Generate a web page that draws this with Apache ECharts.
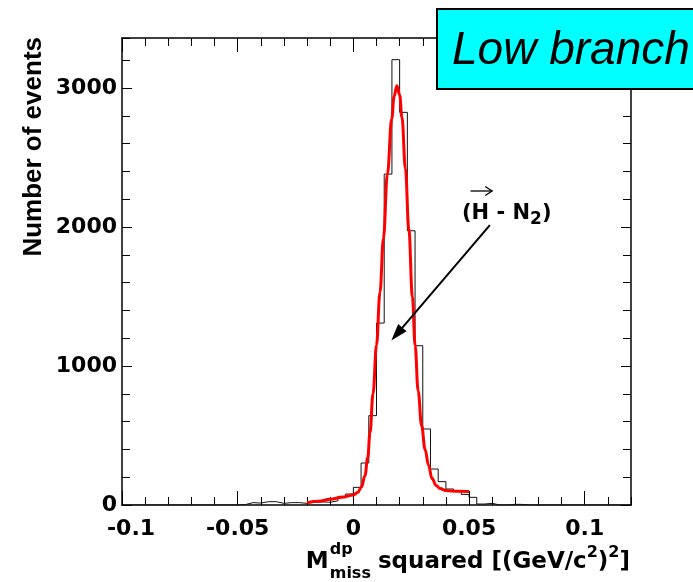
<!DOCTYPE html>
<html>
<head>
<meta charset="utf-8">
<script src="https://cdn.jsdelivr.net/npm/echarts@6/dist/echarts.min.js"></script>
<style>
  html, body { margin: 0; padding: 0; background: #ffffff; }
  #chart { width: 693px; height: 582px; }
</style>
</head>
<body>
<div id="chart"></div>
<script>
// Histogram: 66 bins from -0.1 to 0.12 (bin width 1/300)
const binLow = -0.1;
const binWidth = 0.01 / 3;
const counts = [
  0, 0, 0, 0, 0, 0, 0, 0, 0, 0,
  0, 0, 0, 0, 0, 3, 17, 14, 24, 24,
  12, 17, 17, 12, 20, 22, 20, 30, 62, 79,
  127, 302, 643, 1309, 2381, 3204, 2825, 1973, 1146, 547,
  259, 168, 115, 100, 76, 55, 7, 12, 0, 0,
  5, 4, 0, 0, 0, 0, 0, 0, 0, 0,
  0, 0, 0, 0, 0, 0
];

// Fitted curve, sampled points
const fitX = [-0.020, -0.015, -0.010, -0.005, 0.000, 0.002, 0.0035, 0.005, 0.0062,
  0.0072, 0.0085, 0.0100, 0.0115, 0.0130, 0.0147, 0.0166, 0.0176, 0.0188,
  0.0200, 0.0210, 0.0225, 0.0240, 0.0255, 0.0267, 0.0280, 0.0295, 0.0310,
  0.0325, 0.0340, 0.0358, 0.0375, 0.040, 0.045, 0.050];
const fitY = [17, 27, 42, 56, 72, 92, 130, 210, 340,
  520, 800, 1150, 1530, 1920, 2381, 2780, 2940, 3017,
  2950, 2790, 2420, 1980, 1500, 1146, 820, 570, 400,
  285, 190, 140, 118, 104, 99, 98];

// Axis ranges and tick steps
const xRange = [-0.1, 0.12];
const yRange = [0, 3360];
const xMajor = 0.05, xMinor = 0.01;
const yMajor = 1000, yMinor = 200;

// Annotation arrow (data units)
const arrowFrom = [0.0590, 2014];
const arrowTo = [0.0188, 1230];

const histData = counts.map((c, k) => [binLow + k * binWidth, c]);
histData.push([binLow + counts.length * binWidth, counts[counts.length - 1]]);
const fitData = fitX.map((x, i) => [x, fitY[i]]);

const BOLD = "'DejaVu Sans'";
const labelFont = { fontFamily: BOLD, fontWeight: 'bold', fontSize: 22, color: '#000' };

function fmt(v) { return String(+v.toFixed(4)); }

function xAxisDef(pos, major) {
  return {
    type: 'value', position: pos, min: xRange[0], max: xRange[1],
    interval: major ? xMajor : xMinor,
    axisLine: { show: major, onZero: false, lineStyle: { color: '#000', width: 1.5 } },
    axisTick: { show: true, inside: true, length: major ? 14 : 8, lineStyle: { color: '#000', width: 1 } },
    splitLine: { show: false },
    axisLabel: (major && pos === 'bottom') ? Object.assign({
      show: true, margin: 13, showMaxLabel: false,
      formatter: v => Math.abs(v - xRange[0]) < 1e-9 ? '{first|' + fmt(v) + '}' : fmt(v),
      rich: { first: Object.assign({ padding: [0, 0, 0, 18] }, labelFont) }
    }, labelFont) : { show: false }
  };
}
function yAxisDef(pos, major) {
  return {
    type: 'value', position: pos, min: yRange[0], max: yRange[1],
    interval: major ? yMajor : yMinor,
    axisLine: { show: major, onZero: false, lineStyle: { color: '#000', width: 1.5 } },
    axisTick: { show: true, inside: true, length: major ? 10 : 8, lineStyle: { color: '#000', width: 1 } },
    splitLine: { show: false },
    axisLabel: (major && pos === 'left') ? Object.assign({
      show: true, margin: 5, showMaxLabel: false, formatter: v => String(v)
    }, labelFont) : { show: false }
  };
}

// Text helpers for titles with sub/superscripts
const measureCtx = document.createElement('canvas').getContext('2d');
function textWidth(t, font) { measureCtx.font = font; return measureCtx.measureText(t).width; }
function fontStr(size, style) { return (style || 'bold') + ' ' + size + 'px ' + BOLD; }
function textEl(t, x, baseline, size, align, style) {
  return {
    type: 'text', x: x, y: baseline - 0.3 * size, z: 20,
    style: {
      text: t, font: fontStr(size, style), fill: '#000',
      align: align || 'left', verticalAlign: 'middle',
      textAlign: align || 'left', textVerticalAlign: 'middle'
    }
  };
}
// lay out pieces [text, size, baselineShift] left to right
function runText(pieces, x, baseline) {
  const els = [];
  let cx = x;
  pieces.forEach(p => {
    els.push(textEl(p[0], cx, baseline + p[2], p[1]));
    cx += textWidth(p[0], fontStr(p[1]));
  });
  return { els: els, end: cx };
}

// x-axis title: right-aligned at the frame end
const xTitleRest = [[' squared [(GeV/c', 23, 0], ['2', 16, -11], [')', 23, 0], ['2', 16, -11], [']', 23, 0]];
const restWidth = xTitleRest.reduce((s, p) => s + textWidth(p[0], fontStr(p[1])), 0);
const xTitleRight = 630;
const restRun = runText(xTitleRest, xTitleRight - restWidth, 569);
const mWidth = textWidth('M', fontStr(23));
const mX = xTitleRight - restWidth - mWidth - textWidth('miss', fontStr(16));
const xTitleEls = [
  textEl('M', mX, 569, 23),
  textEl('dp', mX + mWidth + 1, 555, 16),
  textEl('miss', mX + mWidth + 1, 579, 16)
].concat(restRun.els);

// Annotation label (H - N2) with vector arrow over H
const annRun = runText([['(', 21, 0], ['H', 21, 0], [' - N', 21, 0], ['2', 17, 5], [')', 21, 0]], 462, 220);
const hLeft = 462 + textWidth('(', fontStr(21));
const hRight = hLeft + textWidth('H', fontStr(21));
const vecY = 191;
const annEls = annRun.els.concat([
  { type: 'line', z: 20, shape: { x1: hLeft - 1, y1: vecY, x2: hRight + 3, y2: vecY }, style: { stroke: '#000', lineWidth: 1.3 } },
  { type: 'polyline', z: 20, shape: { points: [[hRight - 4, vecY - 4.5], [hRight + 3, vecY], [hRight - 4, vecY + 4.5]] }, style: { stroke: '#000', lineWidth: 1.3, fill: null } }
]);

const chart = echarts.init(document.getElementById('chart'), null, { renderer: 'canvas' });
chart.setOption({
  animation: false,
  backgroundColor: '#ffffff',
  grid: { left: 122, right: 62, top: 38, bottom: 77, containLabel: false },
  xAxis: [xAxisDef('bottom', true), xAxisDef('top', true), xAxisDef('bottom', false), xAxisDef('top', false)],
  yAxis: [yAxisDef('left', true), yAxisDef('right', true), yAxisDef('left', false), yAxisDef('right', false)],
  series: [
    {
      name: 'events', type: 'line', step: 'end', data: histData,
      xAxisIndex: 0, yAxisIndex: 0, symbol: 'none', z: 2,
      lineStyle: { color: '#111', width: 1 }
    },
    {
      name: 'fit', type: 'line', data: fitData, smooth: 0.4, smoothMonotone: 'x',
      xAxisIndex: 0, yAxisIndex: 0, symbol: 'none', z: 3,
      lineStyle: { color: '#ff0000', width: 3 },
      markLine: {
        silent: true, animation: false, z: 5,
        symbol: ['none', 'triangle'], symbolSize: [11, 17],
        lineStyle: { color: '#000', width: 2, type: 'solid' },
        label: { show: false },
        data: [[{ coord: arrowFrom }, { coord: arrowTo }]]
      }
    }
  ],
  graphic: [
    {
      type: 'text', z: 20, rotation: Math.PI / 2, x: 34, y: 37,
      style: {
        text: 'Number of events', font: "bold 26px 'Liberation Sans'", fill: '#000',
        align: 'right', verticalAlign: 'middle', textAlign: 'right', textVerticalAlign: 'middle'
      }
    },
    {
      type: 'rect', z: 30, shape: { x: 437, y: 9, width: 300, height: 80 },
      style: { fill: '#00ffff', stroke: '#000', lineWidth: 2 }
    },
    {
      type: 'text', z: 31, x: 452, y: 65 - 0.31 * 46,
      style: {
        text: 'Low branch', font: "italic 46px 'Liberation Sans'", fill: '#000',
        align: 'left', verticalAlign: 'middle', textAlign: 'left', textVerticalAlign: 'middle'
      }
    }
  ].concat(xTitleEls, annEls)
});
</script>
</body>
</html>
